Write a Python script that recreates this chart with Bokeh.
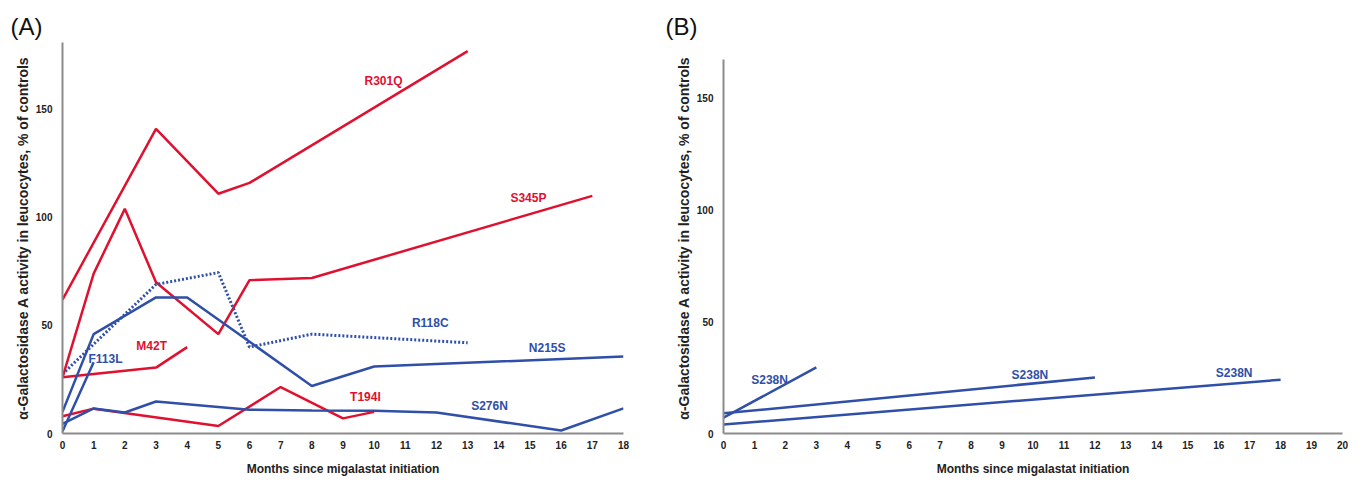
from bokeh.plotting import figure
from bokeh.layouts import row
from bokeh.models import FixedTicker, Range1d
from bokeh.core.properties import value
from bokeh.embed import file_html
from bokeh.resources import INLINE

RED = "#e0102f"
BLUE = "#2f4fa8"

# ---- Panel A data ----
r301q_x = [0, 3, 5, 6, 13]
r301q_y = [62, 141, 111, 116, 177]
s345p_x = [0, 1, 2, 3, 5, 6, 8, 17]
s345p_y = [26, 74, 104, 70, 46, 71, 72, 110]
m42t_x = [0, 3, 4]
m42t_y = [26, 30.5, 40]
t194i_x = [0, 1, 5, 7, 9, 10]
t194i_y = [8, 11.5, 3.5, 21.5, 7, 10]
r118c_x = [0, 3, 5, 6, 8, 13]
r118c_y = [27.5, 69, 74.5, 40, 46, 42]
n215s_x = [0, 1, 3, 4, 8, 10, 18]
n215s_y = [10, 46, 63, 63, 22, 31, 35.6]
s276n_x = [0, 1, 2, 3, 6, 8, 10, 12, 16, 18]
s276n_y = [4.5, 11.6, 9.7, 14.8, 11, 10.6, 10.5, 9.7, 1.4, 11.6]
f113l_x = [0, 1]
f113l_y = [1, 33]

labels_a = ["R301Q", "S345P", "M42T", "T194I", "R118C", "N215S", "S276N", "F113L"]
labels_a_x = [10.3, 14.95, 2.86, 9.72, 11.8, 15.55, 13.7, 1.38]
labels_a_y = [163, 108.8, 40.7, 16.7, 51, 39.4, 12.5, 34.7]
labels_a_col = [RED, RED, RED, RED, BLUE, BLUE, BLUE, BLUE]

# ---- Panel B data ----
b1_x = [0, 3]
b1_y = [7.1, 29.5]
b2_x = [0, 12]
b2_y = [9, 25]
b3_x = [0, 18]
b3_y = [4, 24]
labels_b = ["S238N", "S238N", "S238N"]
labels_b_x = [1.49, 9.9, 16.5]
labels_b_y = [23.7, 25.9, 27.2]

yticks = [0, 50, 100, 150]
xticks_a = list(range(0, 19))
xticks_b = list(range(0, 21))

XLAB = "Months since migalastat initiation"
YLAB = "\u03b1-Galactosidase A activity in leucocytes, % of controls"
FONT = "Liberation Sans"


def style(p, xticks, panel_title, title_offset):
    p.xgrid.visible = False
    p.ygrid.visible = False
    p.outline_line_color = None
    p.background_fill_color = "white"
    p.border_fill_color = "white"
    for ax in (p.xaxis[0], p.yaxis[0]):
        ax.axis_line_color = "#8c8c8c"
        ax.axis_line_width = 2
        ax.major_tick_line_color = None
        ax.minor_tick_line_color = None
        ax.major_label_text_font = FONT
        ax.major_label_text_font_style = "bold"
        ax.major_label_text_font_size = "10px"
        ax.major_label_text_color = "#222222"
        ax.axis_label_text_font = FONT
        ax.axis_label_text_font_style = "bold"
        ax.axis_label_text_color = "#222222"
    p.xaxis.axis_label_text_font_size = "12px"
    p.yaxis.axis_label_text_font_size = "14px"
    p.xaxis.ticker = FixedTicker(ticks=xticks)
    p.yaxis.ticker = FixedTicker(ticks=yticks)
    p.xaxis.major_label_standoff = 1
    p.yaxis.major_label_standoff = 4
    p.xaxis.axis_label = XLAB
    p.yaxis.axis_label = YLAB
    p.xaxis.axis_label_standoff = 10
    p.yaxis.axis_label_standoff = 2
    p.title.text = panel_title
    p.title.align = "left"
    p.title.offset = title_offset
    p.title.standoff = 5
    p.title.text_font = FONT
    p.title.text_font_style = "normal"
    p.title.text_font_size = "24px"
    p.title.text_color = "#111111"


pa = figure(frame_width=561, frame_height=391, output_backend="svg", toolbar_location=None,
            x_range=Range1d(0, 18), y_range=Range1d(0, 181),
            min_border_left=62, min_border_right=37, min_border_top=42, min_border_bottom=45)
style(pa, xticks_a, "(A)", -52)

LW = 2.5
pa.line(r301q_x, r301q_y, line_color=RED, line_width=LW)
pa.line(s345p_x, s345p_y, line_color=RED, line_width=LW)
pa.line(m42t_x, m42t_y, line_color=RED, line_width=LW)
pa.line(t194i_x, t194i_y, line_color=RED, line_width=LW)
pa.line(r118c_x, r118c_y, line_color=BLUE, line_width=3, line_dash="2 2")
pa.line(n215s_x, n215s_y, line_color=BLUE, line_width=LW)
pa.line(s276n_x, s276n_y, line_color=BLUE, line_width=LW)
pa.line(f113l_x, f113l_y, line_color=BLUE, line_width=LW)

pa.text(x=labels_a_x, y=labels_a_y, text=labels_a, text_color=labels_a_col,
        text_font=value(FONT), text_font_style="bold", text_font_size="12px",
        text_align="center", text_baseline="middle")

# Panel B: frame aligned with A; axis line stops at 167 as in the reference
pb = figure(frame_width=619, frame_height=391, output_backend="svg", toolbar_location=None,
            x_range=Range1d(0, 20), y_range=Range1d(0, 174.6),
            min_border_left=63, min_border_right=8, min_border_top=42, min_border_bottom=45)
style(pb, xticks_b, "(B)", -58)
pb.yaxis.bounds = (0, 167)

pb.line(b1_x, b1_y, line_color=BLUE, line_width=LW)
pb.line(b2_x, b2_y, line_color=BLUE, line_width=LW)
pb.line(b3_x, b3_y, line_color=BLUE, line_width=LW)
pb.text(x=labels_b_x, y=labels_b_y, text=labels_b, text_color=BLUE,
        text_font=value(FONT), text_font_style="bold", text_font_size="12px",
        text_align="center", text_baseline="middle")

layout = row(pa, pb)
open("out.html", "w").write(file_html(layout, INLINE))
